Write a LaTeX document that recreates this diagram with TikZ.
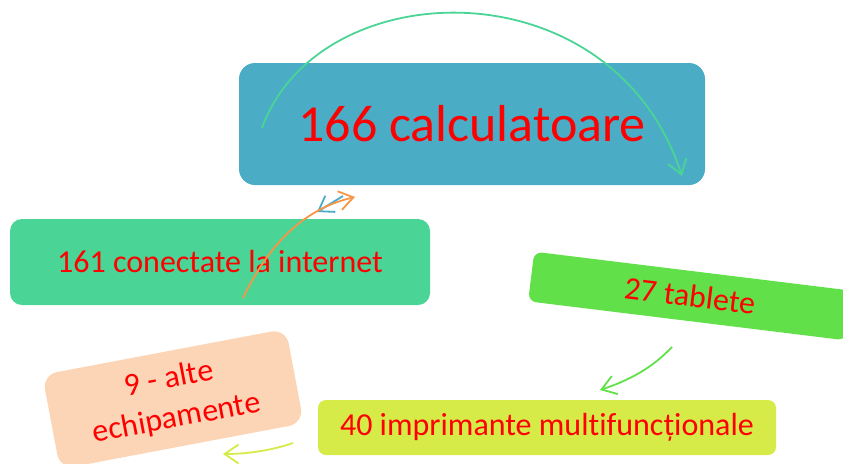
\documentclass[tikz,border=0pt]{standalone}
\usepackage{fontspec}
\setmainfont{Carlito}[Ligatures={NoCommon,NoRequired,NoContextual}]
\usetikzlibrary{arrows.meta}
\definecolor{cblue}{RGB}{75,172,198}
\definecolor{cgreen}{RGB}{74,212,149}
\definecolor{clime}{RGB}{98,224,74}
\definecolor{cpeach}{RGB}{251,213,181}
\definecolor{cyel}{RGB}{214,234,72}
\definecolor{corange}{RGB}{247,150,70}
\definecolor{cred}{RGB}{255,0,0}
\tikzset{
  box/.style={draw=none, text=cred, inner sep=0pt, align=center},
  conn/.style={line width=1.8pt, -{Straight Barb[length=14pt,width=19pt,line width=1.8pt]}},
}
\begin{document}
\begin{tikzpicture}[x=1pt,y=-1pt]
\useasboundingbox (0,0) rectangle (843,463);
% boxes
\node[box, fill=cblue, rounded corners=16pt, minimum width=466pt, minimum height=122pt,
  font=\fontsize{52}{60}\selectfont] (calc) at (472,124) {166 calculatoare};
\node[box, fill=cgreen, rounded corners=12pt, minimum width=420pt, minimum height=86pt,
  font=\fontsize{32}{38}\selectfont] (net) at (220,262) {161 conectate la internet};
\node[box, fill=clime, rounded corners=8pt, minimum width=320pt, minimum height=50pt,
  rotate=-7, font=\fontsize{32}{38}\selectfont] (tab) at (690,296) {27 tablete};
\node[box, fill=cpeach, rounded corners=15pt, minimum width=248pt, minimum height=96pt,
  rotate=10.7, font=\fontsize{32}{40}\selectfont] (alte) at (173,399) {9 - alte\\echipamente};
\node[box, fill=cyel, rounded corners=8pt, minimum width=458pt, minimum height=55pt,
  font=\fontsize{32}{38}\selectfont] (impr) at (547,427.5) {40 imprimante multifuncționale};
% connector ends
\coordinate (c1s) at (262,128);
\coordinate (c1e) at (682,176);
\coordinate (c2s) at (243,298);
\coordinate (c2e) at (355,197);
\coordinate (c3s) at (343,196);
\coordinate (c3e) at (317,212);
\coordinate (c4s) at (672,347);
\coordinate (c4e) at (600,390);
\coordinate (c5s) at (293,443);
\coordinate (c5e) at (223,454);
% connectors
\draw[conn, draw=cgreen] (c1s) .. controls (318,-28) and (612,-38) .. (c1e);
\draw[conn, draw=cblue] (c3s) -- (c3e);
\draw[conn, draw=corange] (c2s) .. controls (272,238) and (308,208) .. (c2e);
\draw[conn, draw=clime] (c4s) .. controls (652,368) and (630,380) .. (c4e);
\draw[conn, draw=cyel] (c5s) .. controls (270,451) and (245,454) .. (c5e);
\end{tikzpicture}
\end{document}
